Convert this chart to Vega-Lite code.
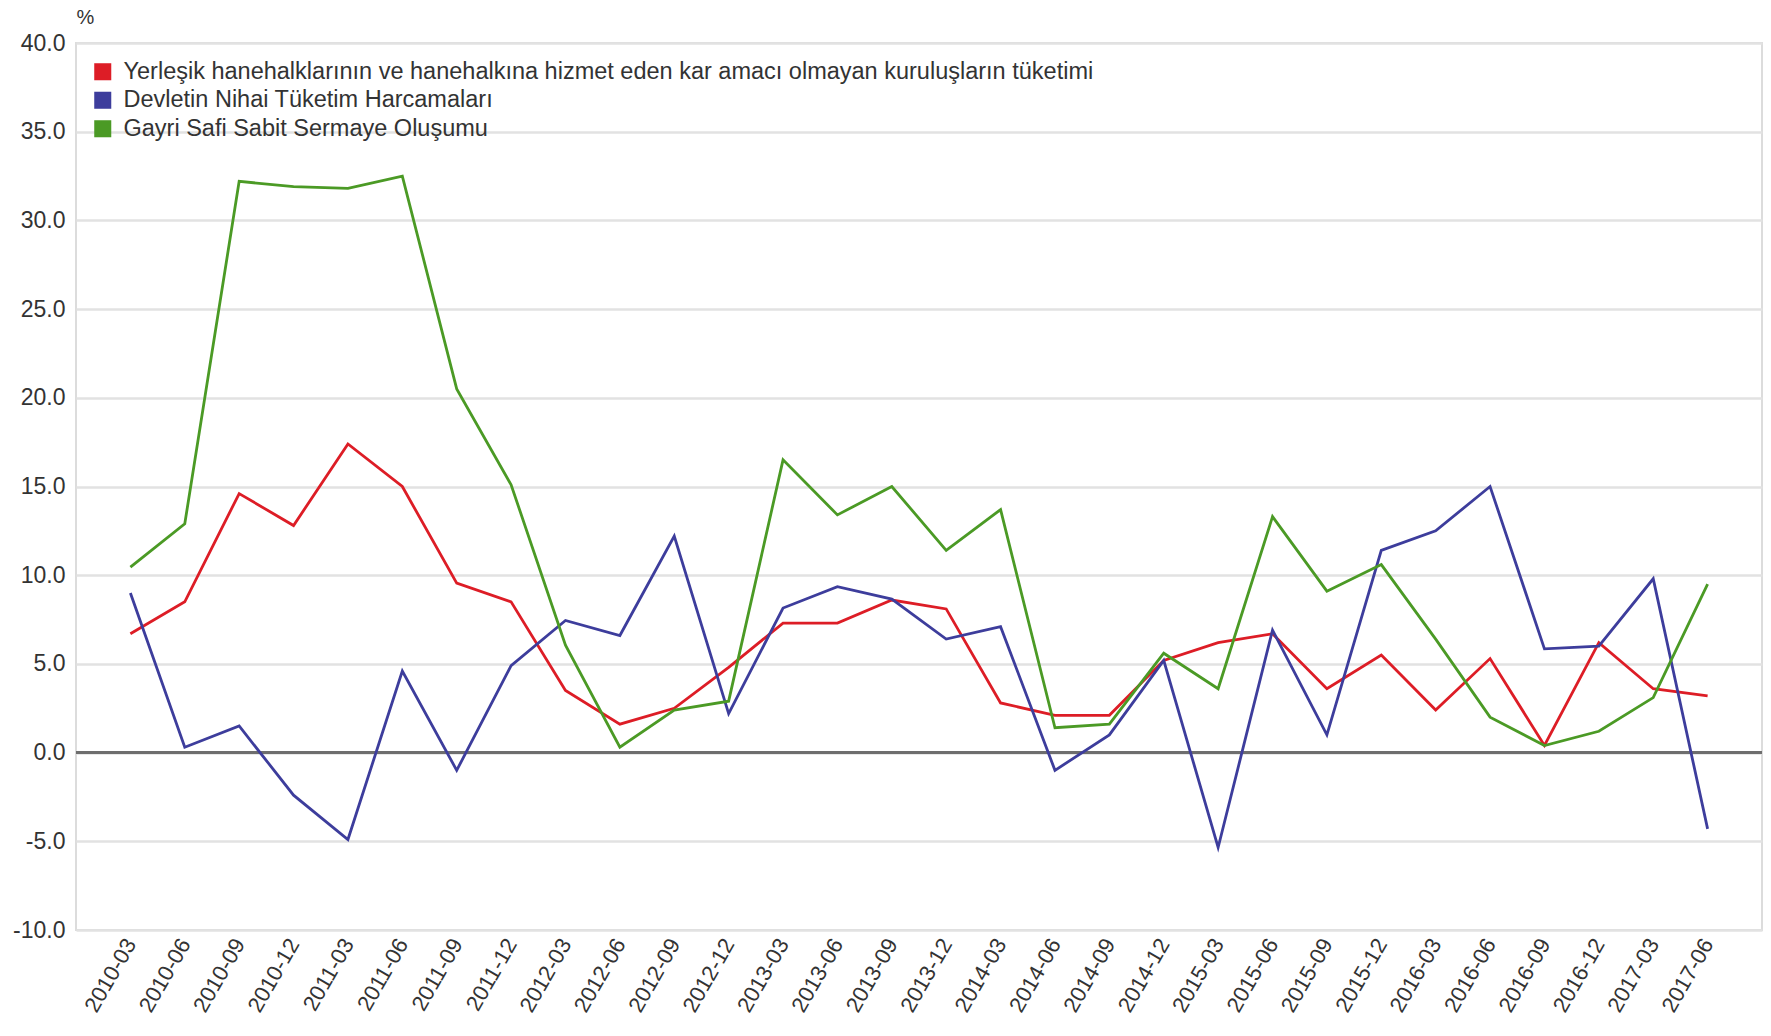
{
  "$schema": "https://vega.github.io/schema/vega-lite/v6.json",
  "width": 1686,
  "height": 887,
  "autosize": {"type": "none"},
  "padding": {"left": 76, "top": 43, "right": 9, "bottom": 106},
  "background": "white",
  "config": {
    "font": "Liberation Sans",
    "view": {"stroke": "#dcdcdc", "strokeWidth": 2}
  },
  "data": {
    "values": [
      {"q": "2010-03", "Yerleşik hanehalklarının ve hanehalkına hizmet eden kar amacı olmayan kuruluşların tüketimi": 6.7, "Devletin Nihai Tüketim Harcamaları": 9.0, "Gayri Safi Sabit Sermaye Oluşumu": 10.45},
      {"q": "2010-06", "Yerleşik hanehalklarının ve hanehalkına hizmet eden kar amacı olmayan kuruluşların tüketimi": 8.5, "Devletin Nihai Tüketim Harcamaları": 0.3, "Gayri Safi Sabit Sermaye Oluşumu": 12.9},
      {"q": "2010-09", "Yerleşik hanehalklarının ve hanehalkına hizmet eden kar amacı olmayan kuruluşların tüketimi": 14.6, "Devletin Nihai Tüketim Harcamaları": 1.5, "Gayri Safi Sabit Sermaye Oluşumu": 32.2},
      {"q": "2010-12", "Yerleşik hanehalklarının ve hanehalkına hizmet eden kar amacı olmayan kuruluşların tüketimi": 12.8, "Devletin Nihai Tüketim Harcamaları": -2.4, "Gayri Safi Sabit Sermaye Oluşumu": 31.9},
      {"q": "2011-03", "Yerleşik hanehalklarının ve hanehalkına hizmet eden kar amacı olmayan kuruluşların tüketimi": 17.4, "Devletin Nihai Tüketim Harcamaları": -4.9, "Gayri Safi Sabit Sermaye Oluşumu": 31.8},
      {"q": "2011-06", "Yerleşik hanehalklarının ve hanehalkına hizmet eden kar amacı olmayan kuruluşların tüketimi": 15.0, "Devletin Nihai Tüketim Harcamaları": 4.6, "Gayri Safi Sabit Sermaye Oluşumu": 32.5},
      {"q": "2011-09", "Yerleşik hanehalklarının ve hanehalkına hizmet eden kar amacı olmayan kuruluşların tüketimi": 9.55, "Devletin Nihai Tüketim Harcamaları": -1.0, "Gayri Safi Sabit Sermaye Oluşumu": 20.5},
      {"q": "2011-12", "Yerleşik hanehalklarının ve hanehalkına hizmet eden kar amacı olmayan kuruluşların tüketimi": 8.5, "Devletin Nihai Tüketim Harcamaları": 4.9, "Gayri Safi Sabit Sermaye Oluşumu": 15.1},
      {"q": "2012-03", "Yerleşik hanehalklarının ve hanehalkına hizmet eden kar amacı olmayan kuruluşların tüketimi": 3.5, "Devletin Nihai Tüketim Harcamaları": 7.45, "Gayri Safi Sabit Sermaye Oluşumu": 6.05},
      {"q": "2012-06", "Yerleşik hanehalklarının ve hanehalkına hizmet eden kar amacı olmayan kuruluşların tüketimi": 1.6, "Devletin Nihai Tüketim Harcamaları": 6.6, "Gayri Safi Sabit Sermaye Oluşumu": 0.3},
      {"q": "2012-09", "Yerleşik hanehalklarının ve hanehalkına hizmet eden kar amacı olmayan kuruluşların tüketimi": 2.5, "Devletin Nihai Tüketim Harcamaları": 12.2, "Gayri Safi Sabit Sermaye Oluşumu": 2.4},
      {"q": "2012-12", "Yerleşik hanehalklarının ve hanehalkına hizmet eden kar amacı olmayan kuruluşların tüketimi": 4.8, "Devletin Nihai Tüketim Harcamaları": 2.2, "Gayri Safi Sabit Sermaye Oluşumu": 2.9},
      {"q": "2013-03", "Yerleşik hanehalklarının ve hanehalkına hizmet eden kar amacı olmayan kuruluşların tüketimi": 7.3, "Devletin Nihai Tüketim Harcamaları": 8.15, "Gayri Safi Sabit Sermaye Oluşumu": 16.5},
      {"q": "2013-06", "Yerleşik hanehalklarının ve hanehalkına hizmet eden kar amacı olmayan kuruluşların tüketimi": 7.3, "Devletin Nihai Tüketim Harcamaları": 9.35, "Gayri Safi Sabit Sermaye Oluşumu": 13.4},
      {"q": "2013-09", "Yerleşik hanehalklarının ve hanehalkına hizmet eden kar amacı olmayan kuruluşların tüketimi": 8.6, "Devletin Nihai Tüketim Harcamaları": 8.65, "Gayri Safi Sabit Sermaye Oluşumu": 15.0},
      {"q": "2013-12", "Yerleşik hanehalklarının ve hanehalkına hizmet eden kar amacı olmayan kuruluşların tüketimi": 8.1, "Devletin Nihai Tüketim Harcamaları": 6.4, "Gayri Safi Sabit Sermaye Oluşumu": 11.4},
      {"q": "2014-03", "Yerleşik hanehalklarının ve hanehalkına hizmet eden kar amacı olmayan kuruluşların tüketimi": 2.8, "Devletin Nihai Tüketim Harcamaları": 7.1, "Gayri Safi Sabit Sermaye Oluşumu": 13.7},
      {"q": "2014-06", "Yerleşik hanehalklarının ve hanehalkına hizmet eden kar amacı olmayan kuruluşların tüketimi": 2.1, "Devletin Nihai Tüketim Harcamaları": -1.0, "Gayri Safi Sabit Sermaye Oluşumu": 1.4},
      {"q": "2014-09", "Yerleşik hanehalklarının ve hanehalkına hizmet eden kar amacı olmayan kuruluşların tüketimi": 2.1, "Devletin Nihai Tüketim Harcamaları": 1.0, "Gayri Safi Sabit Sermaye Oluşumu": 1.6},
      {"q": "2014-12", "Yerleşik hanehalklarının ve hanehalkına hizmet eden kar amacı olmayan kuruluşların tüketimi": 5.2, "Devletin Nihai Tüketim Harcamaları": 5.2, "Gayri Safi Sabit Sermaye Oluşumu": 5.6},
      {"q": "2015-03", "Yerleşik hanehalklarının ve hanehalkına hizmet eden kar amacı olmayan kuruluşların tüketimi": 6.2, "Devletin Nihai Tüketim Harcamaları": -5.35, "Gayri Safi Sabit Sermaye Oluşumu": 3.6},
      {"q": "2015-06", "Yerleşik hanehalklarının ve hanehalkına hizmet eden kar amacı olmayan kuruluşların tüketimi": 6.7, "Devletin Nihai Tüketim Harcamaları": 6.9, "Gayri Safi Sabit Sermaye Oluşumu": 13.3},
      {"q": "2015-09", "Yerleşik hanehalklarının ve hanehalkına hizmet eden kar amacı olmayan kuruluşların tüketimi": 3.6, "Devletin Nihai Tüketim Harcamaları": 1.0, "Gayri Safi Sabit Sermaye Oluşumu": 9.1},
      {"q": "2015-12", "Yerleşik hanehalklarının ve hanehalkına hizmet eden kar amacı olmayan kuruluşların tüketimi": 5.5, "Devletin Nihai Tüketim Harcamaları": 11.4, "Gayri Safi Sabit Sermaye Oluşumu": 10.6},
      {"q": "2016-03", "Yerleşik hanehalklarının ve hanehalkına hizmet eden kar amacı olmayan kuruluşların tüketimi": 2.4, "Devletin Nihai Tüketim Harcamaları": 12.5, "Gayri Safi Sabit Sermaye Oluşumu": 6.4},
      {"q": "2016-06", "Yerleşik hanehalklarının ve hanehalkına hizmet eden kar amacı olmayan kuruluşların tüketimi": 5.3, "Devletin Nihai Tüketim Harcamaları": 15.0, "Gayri Safi Sabit Sermaye Oluşumu": 2.0},
      {"q": "2016-09", "Yerleşik hanehalklarının ve hanehalkına hizmet eden kar amacı olmayan kuruluşların tüketimi": 0.4, "Devletin Nihai Tüketim Harcamaları": 5.85, "Gayri Safi Sabit Sermaye Oluşumu": 0.4},
      {"q": "2016-12", "Yerleşik hanehalklarının ve hanehalkına hizmet eden kar amacı olmayan kuruluşların tüketimi": 6.2, "Devletin Nihai Tüketim Harcamaları": 6.0, "Gayri Safi Sabit Sermaye Oluşumu": 1.2},
      {"q": "2017-03", "Yerleşik hanehalklarının ve hanehalkına hizmet eden kar amacı olmayan kuruluşların tüketimi": 3.6, "Devletin Nihai Tüketim Harcamaları": 9.8, "Gayri Safi Sabit Sermaye Oluşumu": 3.1},
      {"q": "2017-06", "Yerleşik hanehalklarının ve hanehalkına hizmet eden kar amacı olmayan kuruluşların tüketimi": 3.2, "Devletin Nihai Tüketim Harcamaları": -4.3, "Gayri Safi Sabit Sermaye Oluşumu": 9.5}
    ]
  },
  "layer": [
    {
      "data": {"values": [{"z": 0}]},
      "mark": {"type": "rule", "color": "#6e6e6e", "strokeWidth": 3},
      "encoding": {"y": {"field": "z", "type": "quantitative"}}
    },
    {
      "transform": [
        {"fold": ["Yerleşik hanehalklarının ve hanehalkına hizmet eden kar amacı olmayan kuruluşların tüketimi", "Devletin Nihai Tüketim Harcamaları", "Gayri Safi Sabit Sermaye Oluşumu"], "as": ["seri", "deger"]}
      ],
      "mark": {"type": "line", "strokeWidth": 2.8},
      "encoding": {
        "x": {
          "field": "q", "type": "ordinal",
          "scale": {"type": "point", "padding": 1.04},
          "axis": {"title": null, "labelAngle": -60, "labelFontSize": 22, "labelColor": "#333333", "labelPadding": 10, "domain": false, "ticks": false, "grid": false}
        },
        "y": {
          "field": "deger", "type": "quantitative",
          "scale": {"domain": [-10, 40], "nice": false, "zero": false},
          "axis": {
            "title": "%", "titleAngle": 0, "titleX": 9, "titleY": -26, "titleAlign": "center", "titleBaseline": "middle", "titleFontSize": 20, "titleFontWeight": "normal", "titleColor": "#333333",
            "values": [-10, -5, 0, 5, 10, 15, 20, 25, 30, 35, 40], "format": ".1f",
            "labelExpr": "replace(datum.label, '\u2212', '-')",
            "labelFontSize": 23, "labelColor": "#333333", "labelPadding": 11,
            "domain": false, "ticks": false, "grid": true, "gridColor": "#e2e2e2", "gridWidth": 2.5
          }
        },
        "color": {
          "field": "seri", "type": "nominal",
          "scale": {
            "domain": ["Yerleşik hanehalklarının ve hanehalkına hizmet eden kar amacı olmayan kuruluşların tüketimi", "Devletin Nihai Tüketim Harcamaları", "Gayri Safi Sabit Sermaye Oluşumu"],
            "range": ["#dd1d26", "#3d3d9c", "#4b9a25"]
          },
          "legend": {
            "title": null, "orient": "none", "legendX": 15, "legendY": 17,
            "symbolType": "square", "symbolSize": 290, "symbolStrokeWidth": 0,
            "labelFontSize": 23.5, "labelColor": "#333333", "labelOffset": 9, "labelLimit": 1300, "rowPadding": 3.5,
            "encode": {"symbols": {"update": {"fill": {"scale": "color", "field": "value"}, "fillOpacity": {"value": 1}, "strokeWidth": {"value": 0}}}}
          }
        }
      }
    }
  ]
}
